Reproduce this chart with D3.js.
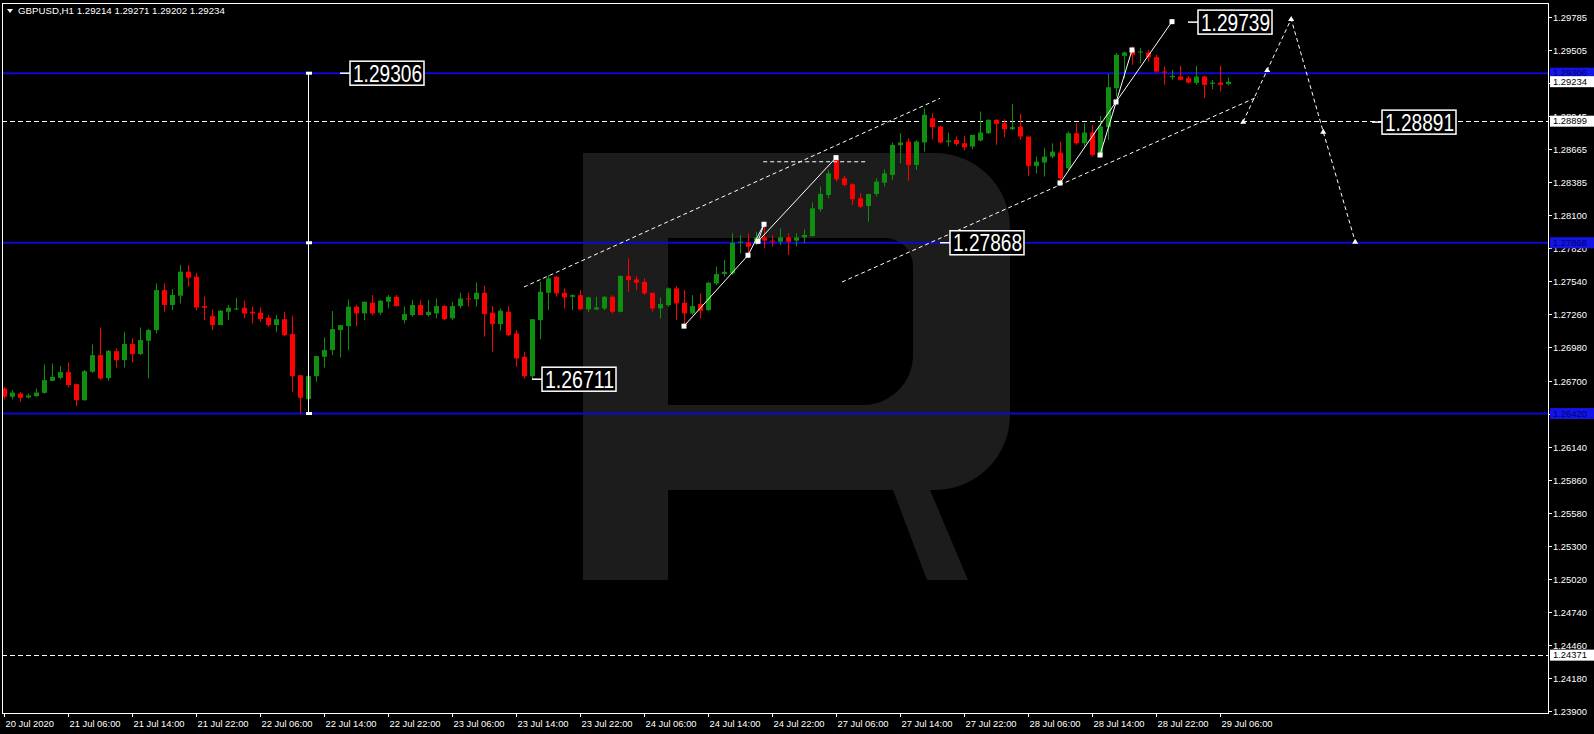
<!DOCTYPE html>
<html><head><meta charset="utf-8">
<script src="https://cdn.jsdelivr.net/npm/d3@7"></script>
<style>
html,body{margin:0;padding:0;background:#000;overflow:hidden}
svg{display:block}
text{font-family:"Liberation Sans",Arial,sans-serif}
</style></head><body>
<svg id="c" width="1594" height="734"></svg>
<script>
// ---------- DATA ----------
const symbol = "GBPUSD,H1";
const headerOHLC = ["1.29214","1.29271","1.29202","1.29234"];

const open = [1.26632,1.26562,1.26590,1.26556,1.26567,1.26595,1.26697,1.26723,1.26771,1.26669,
1.26533,1.26774,1.26915,1.26720,1.26949,1.26873,1.27009,1.26924,1.27037,1.27128,
1.27467,1.27340,1.27419,1.27623,1.27580,1.27331,1.27246,1.27170,1.27283,1.27306,
1.27317,1.27283,1.27275,1.27232,1.27170,1.27220,1.27094,1.26745,1.26542,1.26737,
1.26901,1.26958,1.27128,1.27161,1.27326,1.27269,1.27360,1.27275,1.27368,1.27410,
1.27212,1.27255,1.27340,1.27255,1.27269,1.27331,1.27227,1.27331,1.27396,1.27388,
1.27444,1.27275,1.27178,1.27283,1.27099,1.26901,1.26737,1.27212,1.27444,1.27580,
1.27444,1.27410,1.27424,1.27303,1.27303,1.27311,1.27410,1.27283,1.27586,1.27557,
1.27537,1.27444,1.27311,1.27339,1.27481,1.27359,1.27269,1.27348,1.27297,1.27523,
1.27603,1.27608,1.27869,1.27869,1.27863,1.27914,1.27886,1.27877,1.27914,1.27886,
1.27914,1.27925,1.28152,1.28273,1.28580,1.28415,1.28364,1.28245,1.28180,1.28282,
1.28378,1.28443,1.28695,1.28726,1.28528,1.28718,1.28924,1.28853,1.28723,1.28740,
1.28712,1.28684,1.28735,1.28797,1.28910,1.28882,1.28831,1.28853,1.28769,1.28520,
1.28548,1.28599,1.28633,1.28500,1.28797,1.28712,1.28803,1.28604,1.28848,1.29179,
1.29453,1.29504,1.29484,1.29482,1.29442,1.29320,1.29272,1.29278,1.29264,1.29224,
1.29278,1.29216,1.29227,1.29214];
const high = [1.26646,1.26618,1.26604,1.26590,1.26632,1.26836,1.26845,1.26822,1.26853,1.26669,
1.26788,1.27006,1.27150,1.26958,1.26972,1.27113,1.27057,1.27150,1.27136,1.27524,
1.27524,1.27473,1.27679,1.27679,1.27614,1.27410,1.27303,1.27297,1.27340,1.27402,
1.27377,1.27326,1.27320,1.27255,1.27255,1.27283,1.27249,1.26745,1.26745,1.26907,
1.27065,1.27289,1.27170,1.27388,1.27340,1.27368,1.27425,1.27382,1.27425,1.27425,
1.27326,1.27382,1.27382,1.27382,1.27396,1.27340,1.27368,1.27444,1.27444,1.27532,
1.27504,1.27331,1.27311,1.27331,1.27128,1.26944,1.27220,1.27538,1.27594,1.27586,
1.27481,1.27430,1.27467,1.27410,1.27410,1.27416,1.27424,1.27594,1.27736,1.27586,
1.27566,1.27444,1.27405,1.27489,1.27501,1.27467,1.27424,1.27439,1.27537,1.27665,
1.27722,1.27948,1.27934,1.27948,1.27962,1.28027,1.27934,1.27990,1.27948,1.27948,
1.27982,1.28210,1.28344,1.28486,1.28602,1.28435,1.28373,1.28287,1.28282,1.28415,
1.28491,1.28718,1.28797,1.28754,1.28740,1.29009,1.28967,1.28859,1.28803,1.28769,
1.28774,1.28783,1.28981,1.28916,1.28916,1.28916,1.29046,1.28961,1.28769,1.28599,
1.28670,1.28712,1.28726,1.28811,1.28882,1.28882,1.28868,1.28944,1.29301,1.29476,
1.29490,1.29533,1.29518,1.29504,1.29462,1.29363,1.29335,1.29369,1.29284,1.29369,
1.29284,1.29250,1.29369,1.29271];
const low = [1.26539,1.26539,1.26519,1.26547,1.26562,1.26590,1.26695,1.26709,1.26641,1.26482,
1.26528,1.26765,1.26703,1.26697,1.26810,1.26810,1.26853,1.26915,1.26717,1.27099,
1.27283,1.27297,1.27354,1.27495,1.27297,1.27212,1.27128,1.27170,1.27212,1.27297,
1.27227,1.27184,1.27198,1.27156,1.27113,1.27077,1.26604,1.26420,1.26448,1.26689,
1.26810,1.26915,1.26895,1.26958,1.27161,1.27212,1.27255,1.27255,1.27311,1.27326,
1.27184,1.27241,1.27255,1.27241,1.27227,1.27212,1.27212,1.27311,1.27326,1.27326,
1.27071,1.26944,1.27122,1.27077,1.26816,1.26717,1.26709,1.27050,1.27297,1.27410,
1.27311,1.27297,1.27297,1.27283,1.27297,1.27297,1.27269,1.27277,1.27453,1.27467,
1.27424,1.27283,1.27226,1.27325,1.27212,1.27161,1.27255,1.27226,1.27291,1.27509,
1.27580,1.27594,1.27778,1.27764,1.27849,1.27821,1.27835,1.27849,1.27764,1.27835,
1.27863,1.27919,1.28132,1.28245,1.28387,1.28344,1.28188,1.28160,1.28047,1.28259,
1.28344,1.28401,1.28542,1.28395,1.28486,1.28641,1.28746,1.28712,1.28684,1.28690,
1.28655,1.28661,1.28726,1.28791,1.28698,1.28763,1.28825,1.28740,1.28435,1.28457,
1.28429,1.28585,1.28372,1.28486,1.28698,1.28684,1.28599,1.28599,1.28740,1.29108,
1.29264,1.29377,1.29391,1.29405,1.29312,1.29207,1.29250,1.29244,1.29216,1.29207,
1.29094,1.29170,1.29151,1.29202];
const close = [1.26562,1.26598,1.26553,1.26573,1.26598,1.26703,1.26731,1.26771,1.26661,1.26533,
1.26779,1.26915,1.26717,1.26952,1.26873,1.27009,1.26924,1.27043,1.27128,1.27467,
1.27340,1.27425,1.27623,1.27572,1.27320,1.27317,1.27170,1.27292,1.27317,1.27311,
1.27269,1.27269,1.27220,1.27170,1.27220,1.27085,1.26737,1.26553,1.26737,1.26907,
1.26958,1.27136,1.27170,1.27326,1.27269,1.27368,1.27269,1.27377,1.27410,1.27331,
1.27263,1.27340,1.27255,1.27283,1.27331,1.27220,1.27331,1.27396,1.27390,1.27444,
1.27263,1.27178,1.27292,1.27085,1.26887,1.26737,1.27220,1.27453,1.27566,1.27439,
1.27405,1.27424,1.27303,1.27405,1.27320,1.27410,1.27283,1.27586,1.27552,1.27529,
1.27439,1.27311,1.27348,1.27481,1.27354,1.27269,1.27331,1.27291,1.27529,1.27603,
1.27622,1.27869,1.27877,1.27835,1.27914,1.27886,1.27877,1.27914,1.27877,1.27914,
1.27934,1.28160,1.28282,1.28457,1.28406,1.28358,1.28237,1.28174,1.28282,1.28387,
1.28457,1.28698,1.28718,1.28528,1.28726,1.28953,1.28848,1.28718,1.28735,1.28706,
1.28678,1.28783,1.28803,1.28910,1.28876,1.28831,1.28848,1.28769,1.28520,1.28556,
1.28599,1.28641,1.28415,1.28797,1.28712,1.28803,1.28613,1.28854,1.29187,1.29462,
1.29482,1.29462,1.29490,1.29442,1.29320,1.29312,1.29283,1.29250,1.29227,1.29278,
1.29207,1.29227,1.29207,1.29234];

// time axis: bar number of each label
const xTickBars = [1,9,17,25,33,41,49,57,65,73,81,89,97,105,113,121,129,137,145,153];
const xTickLabels = ["20 Jul 2020","21 Jul 06:00","21 Jul 14:00","21 Jul 22:00","22 Jul 06:00","22 Jul 14:00",
"22 Jul 22:00","23 Jul 06:00","23 Jul 14:00","23 Jul 22:00","24 Jul 06:00","24 Jul 14:00","24 Jul 22:00",
"27 Jul 06:00","27 Jul 14:00","27 Jul 22:00","28 Jul 06:00","28 Jul 14:00","28 Jul 22:00","29 Jul 06:00"];
const yTickLabels = ["1.29785","1.29505","1.29225","1.28945","1.28665","1.28385","1.28100","1.27820","1.27540",
"1.27260","1.26980","1.26700","1.26420","1.26140","1.25860","1.25580","1.25300","1.25020","1.24740",
"1.24460","1.24180","1.23900"];

// chart objects (bar number, price)
const blueLevels = [1.29306, 1.27868, 1.26420];
const dashedLevels = [1.28899, 1.24371];
const currentPrice = 1.29234;
const priceLabels = [
  {bar:43, price:1.29306, text:"1.29306"},
  {bar:118, price:1.27868, text:"1.27868"},
  {bar:67, price:1.26711, text:"1.26711"},
  {bar:149, price:1.29739, text:"1.29739"},
  {bar:172, price:1.28891, text:"1.28891"}
];
const measureBar = 39;
const measurePrices = [1.29306, 1.27868, 1.26420];
const wave1 = [[86,1.27161],[94,1.27762],[96,1.28025],[95.25,1.27880],[105,1.28590]];
const wave2 = [[133,1.28375],[140,1.29062],[147,1.29743]];
const wave3 = [[138,1.28612],[142,1.29503]];
const upperChannel = [[66,1.27493],[118,1.29093]];
const lowerChannel = [[105.75,1.27535],[157.75,1.29107]];
const shortLevel = [[95.9,1.28555],[109,1.28555]];
const forecast = [[155.9,1.28895],[158.9,1.29333],[161.9,1.29765],[165.9,1.28810],[169.9,1.27877]];

// ---------- DRAW ----------
const W = 1594, H = 734;
const L = 2, T = 3, R = 1548, B = 713;
const x = d3.scaleLinear().domain([1, 194]).range([4, 1548]);
const y = d3.scaleLinear().domain([1.23900, 1.29785]).range([710.7, 16.7]);

const svg = d3.select("#c");
svg.append("rect").attr("width", W).attr("height", H).attr("fill", "#000");
svg.append("defs").append("clipPath").attr("id", "pc")
  .append("rect").attr("x", L).attr("y", T).attr("width", R - L).attr("height", B - T);
const plot = svg.append("g").attr("clip-path", "url(#pc)");

// watermark "R"
const wm = plot.append("g").attr("fill", "#1c1c1c");
wm.append("path").attr("fill-rule", "evenodd").attr("d",
  "M583,153 H935 A75,75 0 0 1 1010,228 V415 A75,75 0 0 1 935,490 H668 V580 H583 Z " +
  "M668,238 H885 A28,28 0 0 1 913,266 V355 A50,50 0 0 1 863,405 H668 Z");
wm.append("path").attr("d", "M893,490 H930 L968,580 H927 Z");

// blue levels
plot.selectAll(".blv").data(blueLevels).join("line")
  .attr("x1", L).attr("x2", R).attr("y1", d => y(d)).attr("y2", d => y(d))
  .attr("stroke", "#0a0ad2").attr("stroke-width", 2);

// dashed levels
plot.selectAll(".dlv").data(dashedLevels).join("line")
  .attr("x1", L).attr("x2", R).attr("y1", d => Math.round(y(d)) + 0.5).attr("y2", d => Math.round(y(d)) + 0.5)
  .attr("stroke", "#fff").attr("stroke-dasharray", "5,3");

// candles
const bars = open.map((o, i) => ({ n: i + 1, o, h: high[i], l: low[i], c: close[i] }));
const cg = plot.append("g");
bars.forEach(b => {
  const xc = Math.round(x(b.n));
  const up = b.c >= b.o;
  const col = up ? "#0f8f0f" : "#ff0000";
  cg.append("line").attr("x1", xc + 0.5).attr("x2", xc + 0.5)
    .attr("y1", y(b.h)).attr("y2", y(b.l)).attr("stroke", col).attr("stroke-width", 1);
  const yt = y(Math.max(b.o, b.c)), yb = y(Math.min(b.o, b.c));
  cg.append("rect").attr("x", xc - 2).attr("y", yt).attr("width", 5)
    .attr("height", Math.max(1, yb - yt)).attr("fill", col);
});

// overlays
const ov = plot.append("g");
const line = d3.line().x(d => x(d[0])).y(d => y(d[1]));
function dashed(pts) {
  ov.append("path").attr("d", line(pts)).attr("fill", "none").attr("stroke", "#fff")
    .attr("stroke-width", 1).attr("stroke-dasharray", "4,3");
}
function solid(pts) {
  ov.append("path").attr("d", line(pts)).attr("fill", "none").attr("stroke", "#fff").attr("stroke-width", 1);
}
function marker(p) {
  ov.append("rect").attr("x", x(p[0]) - 2.5).attr("y", y(p[1]) - 2.5).attr("width", 5).attr("height", 5).attr("fill", "#fff");
}
dashed(upperChannel);
dashed(lowerChannel);
dashed(shortLevel);
dashed(forecast);
solid(wave1); wave1.forEach(marker);
solid(wave2); wave2.forEach(marker);
solid(wave3); wave3.forEach(marker);
forecast.forEach(p => ov.append("path")
  .attr("d", `M${x(p[0]) - 3},${y(p[1]) + 2}L${x(p[0])},${y(p[1]) - 3}L${x(p[0]) + 3},${y(p[1]) + 2}Z`).attr("fill", "#fff"));

// measure line
ov.append("line").attr("x1", x(measureBar) + 0.5).attr("x2", x(measureBar) + 0.5)
  .attr("y1", y(measurePrices[0])).attr("y2", y(measurePrices[2])).attr("stroke", "#fff");
measurePrices.forEach(p => ov.append("rect").attr("x", x(measureBar) - 2).attr("y", y(p) - 1.5)
  .attr("width", 6).attr("height", 3).attr("fill", "#fff"));

// price labels
priceLabels.forEach(d => {
  const xa = x(d.bar), yc = y(d.price);
  ov.append("line").attr("x1", xa).attr("x2", xa + 10).attr("y1", yc).attr("y2", yc)
    .attr("stroke", "#fff").attr("stroke-width", 1.5);
  ov.append("rect").attr("x", xa + 10).attr("y", yc - 12).attr("width", 74).attr("height", 24)
    .attr("fill", "#000").attr("stroke", "#fff").attr("stroke-width", 1.5);
  ov.append("text").attr("x", xa + 13).attr("y", yc + 8.5).attr("fill", "#fff")
    .attr("font-size", 23).attr("textLength", 69).attr("lengthAdjust", "spacingAndGlyphs").text(d.text);
});

// frame
svg.append("rect").attr("x", L + 0.5).attr("y", T + 0.5).attr("width", R - L).attr("height", B - T)
  .attr("fill", "none").attr("stroke", "#fff").attr("stroke-width", 1);

// y axis
const ya = svg.append("g");
yTickLabels.forEach(t => {
  const v = +t, yy = Math.round(y(v)) + 0.5;
  ya.append("line").attr("x1", R).attr("x2", R + 4).attr("y1", yy).attr("y2", yy).attr("stroke", "#fff");
  ya.append("text").attr("x", R + 5).attr("y", yy + 3.3).attr("fill", "#fff").attr("font-size", 9.4).text(t);
});
function axisTag(v, bg, fg, txt) {
  const yy = y(v);
  ya.append("rect").attr("x", R + 2).attr("y", yy - 5.5).attr("width", 44).attr("height", 11).attr("fill", bg);
  ya.append("text").attr("x", R + 5).attr("y", yy + 3.3).attr("fill", fg).attr("font-size", 9.4).text(txt);
}
blueLevels.forEach(v => axisTag(v, "#1414e6", "#00006e", v.toFixed(5)));
axisTag(dashedLevels[0], "#fff", "#000", dashedLevels[0].toFixed(5));
axisTag(dashedLevels[1], "#fff", "#000", dashedLevels[1].toFixed(5));
axisTag(currentPrice, "#fff", "#000", currentPrice.toFixed(5));

// x axis
const xa = svg.append("g");
xTickBars.forEach((n, i) => {
  const xx = Math.round(x(n)) + 0.5;
  xa.append("line").attr("x1", xx).attr("x2", xx).attr("y1", B).attr("y2", B + 4).attr("stroke", "#fff");
  xa.append("text").attr("x", xx + 1).attr("y", B + 14).attr("fill", "#fff").attr("font-size", 9.4).text(xTickLabels[i]);
});

// header
svg.append("path").attr("d", "M7,9 H13 L10,13 Z").attr("fill", "#fff");
svg.append("text").attr("x", 18).attr("y", 14).attr("fill", "#fff").attr("font-size", 9.7)
  .text(symbol + "  " + headerOHLC.join(" "));
</script>
</body></html>
